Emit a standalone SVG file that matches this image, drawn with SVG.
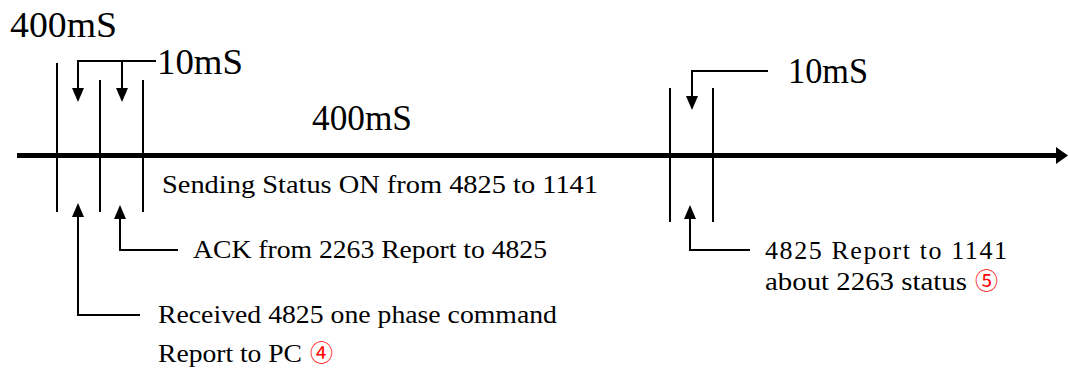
<svg xmlns="http://www.w3.org/2000/svg" width="1069" height="370" viewBox="0 0 1069 370">
  <style>
    text.lbl { font-family: 'Liberation Serif', serif; fill: #000; }
    .big { font-size: 36px; }
    .txt { font-size: 26px; }
    .num { font-family: 'Noto Sans CJK SC', sans-serif; fill: #ff0000; font-size: 23px; }
    .tick { stroke: #000; stroke-width: 2; fill: none; }
    .lead { stroke: #000; stroke-width: 2; fill: none; }
    .axis { stroke: #000; stroke-width: 5; fill: none; }
    .head { fill: #000; stroke: none; }
  </style>
  <defs>
    <!-- arrowhead pointing down, tip at the origin -->
    <path id="tipDown" class="head" d="M0,0 L-6,-14 L6,-14 Z"/>
    <!-- arrowhead pointing up, tip at the origin -->
    <path id="tipUp" class="head" d="M0,0 L-6,14 L6,14 Z"/>
    <!-- axis arrowhead pointing right -->
    <path id="tipRight" class="head" d="M0,0 L-12,-8.5 L-12,8.5 Z"/>
  </defs>

  <!-- time axis -->
  <g id="axis">
    <line class="axis" x1="17" y1="155.5" x2="1058" y2="155.5"/>
    <use href="#tipRight" x="1068" y="155.5"/>
  </g>

  <!-- first window: three event ticks -->
  <g id="window-1">
    <line class="tick" x1="57" y1="63" x2="57" y2="212"/>
    <line class="tick" x1="100" y1="80" x2="100" y2="212"/>
    <line class="tick" x1="143" y1="80" x2="143" y2="212"/>
    <text class="lbl big" x="10" y="37" textLength="107" lengthAdjust="spacingAndGlyphs">400mS</text>
    <text class="lbl big" x="157" y="74" textLength="86" lengthAdjust="spacingAndGlyphs">10mS</text>
  </g>

  <!-- second window: two event ticks -->
  <g id="window-2">
    <line class="tick" x1="670" y1="88" x2="670" y2="222"/>
    <line class="tick" x1="713" y1="88" x2="713" y2="222"/>
    <text class="lbl big" x="788" y="83" textLength="80" lengthAdjust="spacingAndGlyphs">10mS</text>
  </g>

  <g id="gap-label">
    <text class="lbl big" x="312" y="130" textLength="100" lengthAdjust="spacingAndGlyphs">400mS</text>
  </g>

  <g id="sending">
    <text class="lbl txt" x="162" y="193" textLength="436" lengthAdjust="spacingAndGlyphs">Sending Status ON from 4825 to 1141</text>
  </g>

  <g id="ack">
    <text class="lbl txt" x="193" y="258" textLength="354" lengthAdjust="spacingAndGlyphs">ACK from 2263 Report to 4825</text>
  </g>

  <g id="received">
    <text class="lbl txt" x="158" y="323" textLength="399" lengthAdjust="spacingAndGlyphs">Received 4825 one phase command</text>
    <text class="lbl txt" x="158" y="362" textLength="144" lengthAdjust="spacingAndGlyphs">Report to PC</text>
    <text class="num" x="310" y="361">④</text>
  </g>

  <g id="report">
    <text class="lbl txt" x="765" y="259" textLength="242" lengthAdjust="spacing">4825 Report to 1141</text>
    <text class="lbl txt" x="765" y="290" textLength="202" lengthAdjust="spacingAndGlyphs">about 2263 status</text>
    <text class="num" x="975" y="289">⑤</text>
  </g>

  <!-- leaders pointing at the ticks -->
  <g id="connectors">
    <polyline class="lead" points="156,61 78,61 78,92"/>
    <use href="#tipDown" x="78" y="102"/>
    <line class="lead" x1="122" y1="61" x2="122" y2="92"/>
    <use href="#tipDown" x="122" y="102"/>
    <polyline class="lead" points="768,71 692,71 692,100"/>
    <use href="#tipDown" x="692" y="110"/>
    <polyline class="lead" points="140,315 78,315 78,213"/>
    <use href="#tipUp" x="78" y="203"/>
    <polyline class="lead" points="178,250 120,250 120,215"/>
    <use href="#tipUp" x="120" y="205"/>
    <polyline class="lead" points="750,250 690,250 690,215"/>
    <use href="#tipUp" x="690" y="205"/>
  </g>
</svg>
